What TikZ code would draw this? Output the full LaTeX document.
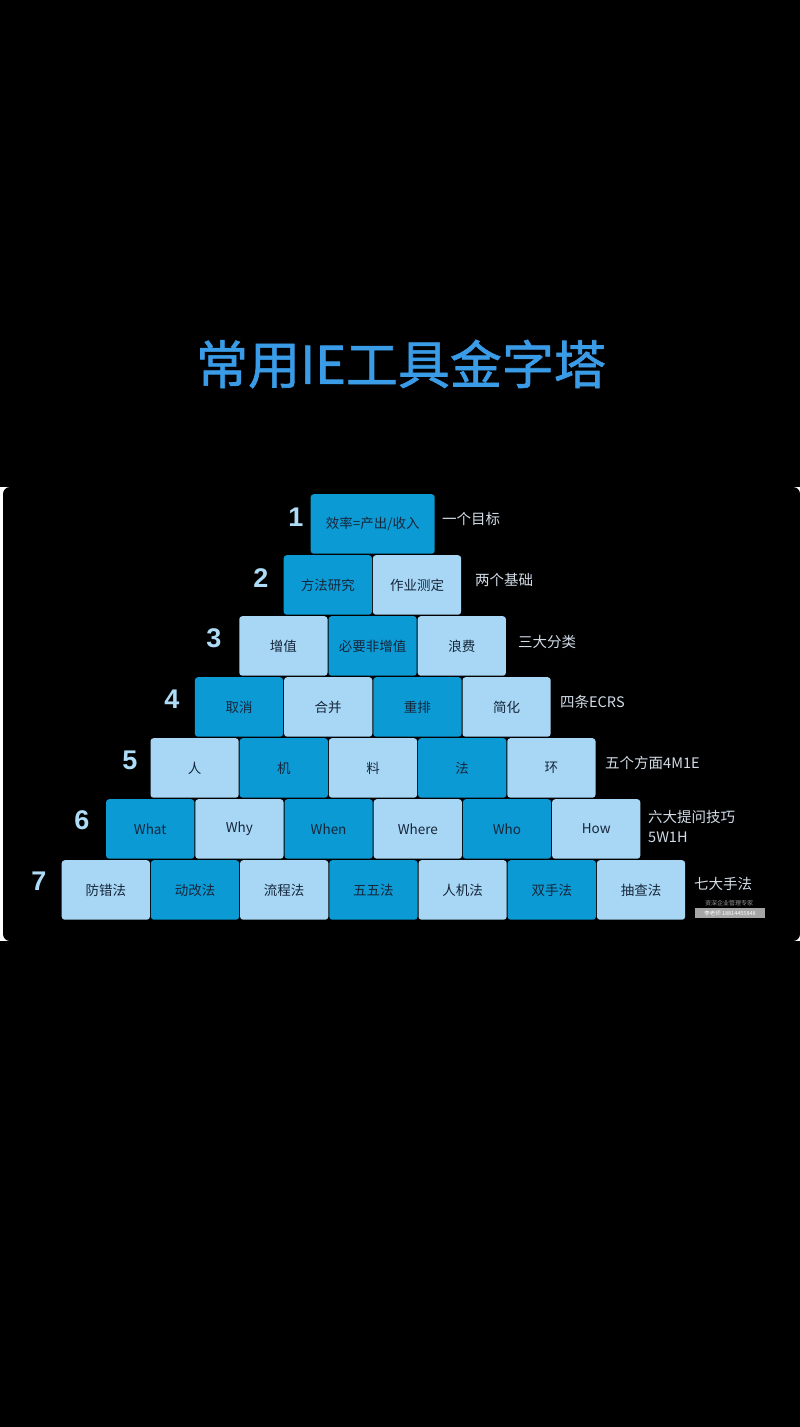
\documentclass[tikz,border=0pt]{standalone}
\usepackage{fontspec}
\setmainfont{Noto Sans CJK SC}
\newfontfamily\titlefont{Noto Sans CJK SC}[FakeBold=1.2]
\newfontfamily\numfont{Liberation Sans}
\definecolor{dkblue}{HTML}{0C9AD4}
\definecolor{ltblue}{HTML}{A7D7F5}
\definecolor{boxtext}{HTML}{16263A}
\definecolor{numblue}{HTML}{AEDCF6}
\definecolor{labgray}{HTML}{D2DDE8}
\definecolor{titleblue}{HTML}{3A9BE6}
\begin{document}
\begin{tikzpicture}[x=1pt,y=-1pt,
  box/.style={rectangle, rounded corners=3pt, minimum width=88.2pt, minimum height=59.5pt, inner sep=0pt, anchor=north west, font=\fontsize{13.5}{16}\selectfont, text=boxtext},
  num/.style={font=\numfont\bfseries\fontsize{27}{29}\selectfont, text=numblue, inner sep=0pt},
  lab/.style={anchor=west, inner sep=0pt, font=\fontsize{14.5}{20}\selectfont, text=labgray, align=left}]
\fill[black] (0,0) rectangle (800,1427);
\useasboundingbox (0,0) rectangle (800,1427);
% embedded frame
\fill[white] (0,487) rectangle (800,941);
\fill[black, rounded corners=7pt] (3,487) rectangle (800,941);
% title
\node[text=titleblue, font=\titlefont\fontsize{52}{56}\selectfont, inner sep=0pt] (title) at (401,364) {常用IE工具金字塔};
% row 1
\node[box, fill=dkblue, minimum width=124pt] (r1c0) at (310.5,494) {效率=产出/收入};
\node[num] (n1) at (296,517) {1};
\node[lab] (l1) at (442,519) {一个目标};
% row 2
\foreach \t/\s [count=\c from 0] in {方法研究/dkblue,作业测定/ltblue}
  \node[box, fill=\s] (r2c\c) at (283.5+89.2*\c,555) {\t};
\node[num] (n2) at (261,578) {2};
\node[lab] (l2) at (475,580) {两个基础};
% row 3
\foreach \t/\s [count=\c from 0] in {增值/ltblue,必要非增值/dkblue,浪费/ltblue}
  \node[box, fill=\s] (r3c\c) at (239.1+89.2*\c,616) {\t};
\node[num] (n3) at (214,638) {3};
\node[lab] (l3) at (518,642) {三大分类};
% row 4
\foreach \t/\s [count=\c from 0] in {取消/dkblue,合并/ltblue,重排/dkblue,简化/ltblue}
  \node[box, fill=\s] (r4c\c) at (194.7+89.2*\c,677) {\t};
\node[num] (n4) at (172,699) {4};
\node[lab] (l4) at (560,702) {四条ECRS};
% row 5
\foreach \t/\s [count=\c from 0] in {人/ltblue,机/dkblue,料/ltblue,法/dkblue,环/ltblue}
  \node[box, fill=\s] (r5c\c) at (150.3+89.2*\c,738) {\t};
\node[num] (n5) at (130,760) {5};
\node[lab] (l5) at (605,763) {五个方面4M1E};
% row 6
\foreach \t/\s [count=\c from 0] in {What/dkblue,Why/ltblue,When/dkblue,Where/ltblue,Who/dkblue,How/ltblue}
  \node[box, fill=\s] (r6c\c) at (105.9+89.2*\c,799) {\t};
\node[num] (n6) at (82,820) {6};
\node[lab] (l6) at (648,826) {六大提问技巧\\5W1H};
% row 7
\foreach \t/\s [count=\c from 0] in {防错法/ltblue,动改法/dkblue,流程法/ltblue,五五法/dkblue,人机法/ltblue,双手法/dkblue,抽查法/ltblue}
  \node[box, fill=\s] (r7c\c) at (61.5+89.2*\c,860) {\t};
\node[num] (n7) at (39,881) {7};
\node[lab] (l7) at (694,884) {七大手法};
% watermark
\node[inner sep=0pt, text=gray!80, font=\fontsize{6}{7}\selectfont] (wm1) at (729,903) {资深企业管理专家};
\node[fill=gray!70, text=white, inner sep=1pt, minimum width=70pt, minimum height=10pt, font=\fontsize{5.5}{6}\selectfont] (wm2) at (730,913) {李老师 18814455848};
\end{tikzpicture}
\end{document}
